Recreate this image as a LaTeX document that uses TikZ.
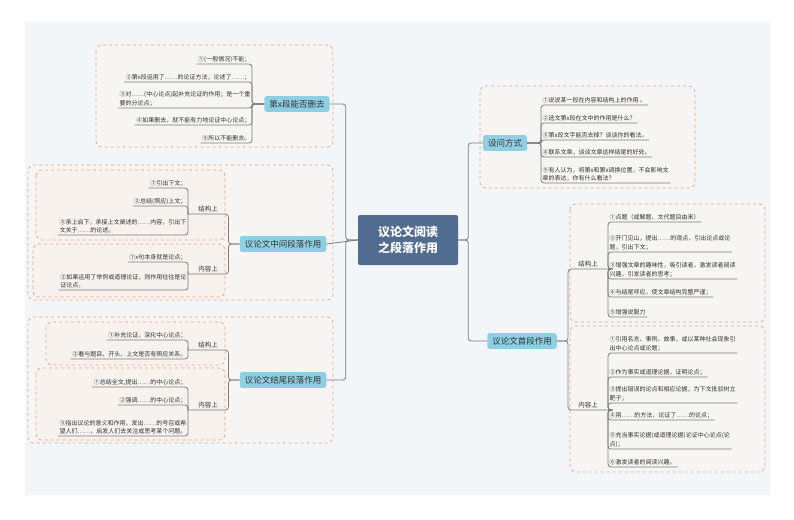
\documentclass[tikz,border=0pt]{standalone}
\usepackage{fontspec}
\setmainfont{Noto Sans CJK SC}
\begin{document}
\begin{tikzpicture}[x=1pt,y=-1pt,
 grp/.style={draw=grpline,fill=grpfill,dashed,rounded corners=6pt,line width=0.7pt},
 igrp/.style={draw=grpline,fill=igrpfill,dashed,rounded corners=6pt,line width=0.7pt},
 leaf/.style={font=\fontsize{6}{8.5}\selectfont,text=txt,align=left,inner sep=1.5pt},
 sub/.style={font=\fontsize{6.5}{8}\selectfont,text=txt,inner sep=1.5pt,minimum width=40pt},
 br/.style={fill=brfill,rounded corners=2.5pt,font=\fontsize{8.5}{10}\selectfont,text=txt,inner xsep=5pt,inner ysep=4pt},
 conn/.style={draw=cline,line width=0.8pt,rounded corners=3pt}]
\definecolor{grpline}{HTML}{E8A17A}
\definecolor{grpfill}{HTML}{F6F5F3}
\definecolor{igrpfill}{HTML}{F7F2EE}
\definecolor{txt}{HTML}{333333}
\definecolor{brfill}{HTML}{8FCFE3}
\definecolor{cline}{HTML}{7C7C7C}
\definecolor{center}{HTML}{526C91}
\definecolor{bgc}{HTML}{F2F6F9}
\useasboundingbox (0,0) rectangle (794,519);
\fill[white] (0,0) rectangle (794,519);
\fill[bgc] (25,22) rectangle (770,495);
% group boxes
\path[grp] (96,45) rectangle (333,147);
\path[grp] (28,165) rectangle (333,300);
\path[igrp] (36,170) rectangle (225,240);
\path[igrp] (33,244) rectangle (225,297);
\path[grp] (28,317) rectangle (333,443);
\path[igrp] (46,322) rectangle (225,365);
\path[igrp] (36,368) rectangle (225,440);
\path[grp] (480,86) rectangle (695,188);
\path[grp] (570,204) rectangle (765,322);
\path[grp] (570,326) rectangle (765,472);
% center
\node[fill=center,rounded corners=2pt,text=white,font=\bfseries\fontsize{12}{16}\selectfont,align=center,minimum width=100pt,minimum height=50pt] (c) at (408,240) {议论文阅读\\之段落作用};
% branches
\node[br] (b1) at (297,104) {第x段能否删去};
\node[br] (b2) at (283,244) {议论文中间段落作用};
\node[br] (b3) at (283,380) {议论文结尾段落作用};
\node[br] (b4) at (505,143) {设问方式};
\node[br] (b5) at (522,341) {议论文首段作用};
\draw[conn] (c.west) -- ++(-12,0) |- (b1.east);
\draw[conn] (c.west) -- (b2.east);
\draw[conn] (c.west) -- ++(-12,0) |- (b3.east);
\draw[conn] (c.east) -- ++(10,0) |- (b4.west);
\draw[conn] (c.east) -- ++(10,0) |- (b5.west);
% group 1
\node[leaf,anchor=south east] (a1) at (252,64) {①(一般情况)不能；};
\node[leaf,anchor=south east] (a2) at (252,82) {②第x段运用了……的论证方法，论述了……；};
\node[leaf,anchor=south east] (a3) at (252,108) {③对……(中心论点)起补充论证的作用；是一个重\\要的分论点；};
\node[leaf,anchor=south east] (a4) at (252,125) {④如果删去，就不能有力地论证中心论点；};
\node[leaf,anchor=south east] (a5) at (252,143) {⑤所以不能删去。};
\foreach \n in {a1,a2,a3,a4,a5} \draw[conn] (b1.west) -| (\n.south east) -- (\n.south west);
% group 2
\node[sub,anchor=south west] (s21) at (188,214) {结构上};
\node[sub,anchor=south west] (s22) at (188,274) {内容上};
\draw[conn] (b2.west) -| (s21.south east) -- (s21.south west);
\draw[conn] (b2.west) -| (s22.south east) -- (s22.south west);
\node[leaf,anchor=south east] (d1) at (188,188) {①引出下文；};
\node[leaf,anchor=south east] (d2) at (188,206) {②总结(照应)上文；};
\node[leaf,anchor=south east] (d3) at (188,235) {③承上启下，承接上文阐述的……内容，引出下\\文关于……的论述。};
\foreach \n in {d1,d2,d3} \draw[conn] (s21.south west) -| (\n.south east) -- (\n.south west);
\node[leaf,anchor=south east] (e1) at (188,262) {①x句本身就是论点；};
\node[leaf,anchor=south east] (e2) at (188,290) {②如果运用了举例或道理论证，则作用往往是论\\证论点。};
\foreach \n in {e1,e2} \draw[conn] (s22.south west) -| (\n.south east) -- (\n.south west);
% group 3
\node[sub,anchor=south west] (s31) at (188,350) {结构上};
\node[sub,anchor=south west] (s32) at (188,410) {内容上};
\draw[conn] (b3.west) -| (s31.south east) -- (s31.south west);
\draw[conn] (b3.west) -| (s32.south east) -- (s32.south west);
\node[leaf,anchor=south east] (f1) at (188,340) {①补充论证，深化中心论点；};
\node[leaf,anchor=south east] (f2) at (188,359) {②看与题目、开头、上文是否有照应关系。};
\foreach \n in {f1,f2} \draw[conn] (s31.south west) -| (\n.south east) -- (\n.south west);
\node[leaf,anchor=south east] (g1) at (188,387) {①总结全文,提出……的中心论点；};
\node[leaf,anchor=south east] (g2) at (188,405) {②强调……的中心论点；};
\node[leaf,anchor=south east] (g3) at (188,436) {③指出议论的意义和作用，发出……的号召或希\\望人们……，启发人们去关注或思考某个问题。};
\foreach \n in {g1,g2,g3} \draw[conn] (s32.south west) -| (\n.south east) -- (\n.south west);
% group 4
\node[leaf,anchor=south west] (h1) at (541,105) {①说说某一段在内容和结构上的作用 。};
\node[leaf,anchor=south west] (h2) at (541,123) {②选文第x段在文中的作用是什么？};
\node[leaf,anchor=south west] (h3) at (541,140) {③第x段文字能否去掉？谈谈你的看法。};
\node[leaf,anchor=south west] (h4) at (541,157) {④联系文章，谈谈文章这样结尾的好处。};
\node[leaf,anchor=south west] (h5) at (541,183) {⑤有人认为，将第x和第x调换位置，不会影响文\\章的表达，你有什么看法？};
\foreach \n in {h1,h2,h3,h4,h5} \draw[conn] (b4.east) -| (\n.south west) -- (\n.south east);
% group 5
\node[sub,anchor=south west] (s51) at (568,269) {结构上};
\node[sub,anchor=south west] (s52) at (568,410) {内容上};
\draw[conn] (b5.east) -| (s51.south west) -- (s51.south east);
\draw[conn] (b5.east) -| (s52.south west) -- (s52.south east);
\node[leaf,anchor=south west] (i1) at (608,222) {①点题（或解题、文代题目由来）};
\node[leaf,anchor=south west] (i2) at (608,252) {②开门见山，提出……的观点，引出论点或论\\题，引出下文；};
\node[leaf,anchor=south west] (i3) at (608,279) {③增强文章的趣味性，吸引读者，激发读者阅读\\兴趣，引发读者的思考；};
\node[leaf,anchor=south west] (i4) at (608,297) {④与结尾呼应，使文章结构完整严谨；};
\node[leaf,anchor=south west] (i5) at (608,317) {⑤增强说服力};
\foreach \n in {i1,i2,i3,i4,i5} \draw[conn] (s51.south east) -| (\n.south west) -- (\n.south east);
\node[leaf,anchor=south west] (j1) at (608,353) {①引用名言、事例、故事，或以某种社会现象引\\出中心论点或论题；};
\node[leaf,anchor=south west] (j2) at (608,377) {②作为事实或道理论据，证明论点；};
\node[leaf,anchor=south west] (j3) at (608,403) {③提出错误的论点和相应论据，为下文批驳树立\\靶子；};
\node[leaf,anchor=south west] (j4) at (608,420) {④用……的方法，论证了……的论点；};
\node[leaf,anchor=south west] (j5) at (608,449) {⑤充当事实论据(或道理论据)论证中心论点(论\\点)；};
\node[leaf,anchor=south west] (j6) at (608,467) {⑥激发读者的阅读兴趣。};
\foreach \n in {j1,j2,j3,j4,j5,j6} \draw[conn] (s52.south east) -| (\n.south west) -- (\n.south east);
\end{tikzpicture}
\end{document}
